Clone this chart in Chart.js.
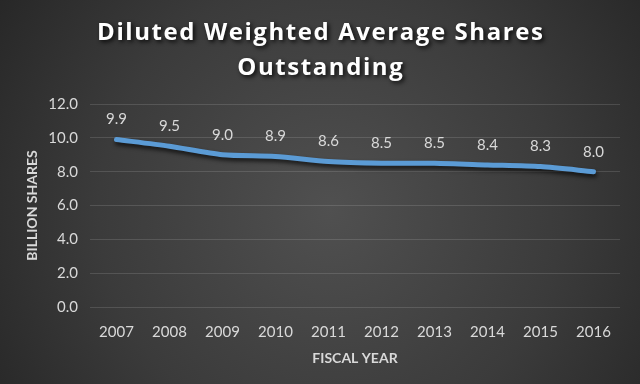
<!DOCTYPE html>
<html>
<head>
<meta charset="utf-8">
<script src="https://cdn.jsdelivr.net/npm/chart.js@4.4.0/dist/chart.umd.min.js"></script>
<style>
html,body{margin:0;padding:0;background:#333;}
#wrap{width:640px;height:384px;position:relative;}
</style>
</head>
<body>
<div id="wrap"><canvas id="c" width="640" height="384"></canvas></div>
<script>
const titleLines = ["Diluted Weighted Average Shares", "Outstanding"];
const years = ["2007","2008","2009","2010","2011","2012","2013","2014","2015","2016"];
const shares = [9.9, 9.5, 9.0, 8.9, 8.6, 8.5, 8.5, 8.4, 8.3, 8.0];
const yTitle = "BILLION SHARES";
const xTitle = "FISCAL YEAR";

const bgPlugin = {
  id: 'bg',
  beforeDraw(chart) {
    const ctx = chart.ctx, w = chart.width, h = chart.height;
    ctx.save();
    const g = ctx.createRadialGradient(330, 210, 0, 330, 210, 420);
    g.addColorStop(0, '#505050');
    g.addColorStop(0.55, '#3b3b3b');
    g.addColorStop(1, '#242424');
    ctx.fillStyle = g;
    ctx.fillRect(0, 0, w, h);
    ctx.restore();
  },
  afterDraw(chart) {
    const ctx = chart.ctx;
    ctx.save();
    ctx.font = 'bold 24px "Open Sans"';
    ctx.fillStyle = '#ffffff';
    ctx.textAlign = 'center';
    ctx.textBaseline = 'alphabetic';
    ctx.shadowColor = 'rgba(0,0,0,0.85)';
    ctx.shadowBlur = 4;
    ctx.shadowOffsetX = 2;
    ctx.shadowOffsetY = 2;
    const targetW = 446;
    const n = titleLines[0].length;
    const w0 = ctx.measureText(titleLines[0]).width;
    const sp = Math.max(0, (targetW - w0) / (n - 1));
    ctx.letterSpacing = sp.toFixed(2) + 'px';
    const bases = [40, 75];
    titleLines.forEach((t, i) => {
      ctx.fillText(t, 320 + sp / 2, bases[i]);
    });
    ctx.restore();
  }
};

const shadowPlugin = {
  id: 'lineShadow',
  beforeDatasetDraw(chart) {
    const ctx = chart.ctx;
    ctx.save();
    ctx.shadowColor = 'rgba(0,0,0,0.7)';
    ctx.shadowBlur = 4;
    ctx.shadowOffsetX = 1;
    ctx.shadowOffsetY = 3;
  },
  afterDatasetDraw(chart) {
    chart.ctx.restore();
  }
};

const labelPlugin = {
  id: 'valueLabels',
  afterDatasetsDraw(chart) {
    const ctx = chart.ctx;
    const meta = chart.getDatasetMeta(0);
    ctx.save();
    ctx.font = '15px Lato';
    ctx.fillStyle = '#d9d9d9';
    ctx.textAlign = 'center';
    ctx.textBaseline = 'middle';
    meta.data.forEach((pt, i) => {
      ctx.fillText(shares[i].toFixed(1), pt.x, pt.y - 20);
    });
    ctx.restore();
  }
};

new Chart(document.getElementById('c'), {
  type: 'line',
  data: {
    labels: years,
    datasets: [{
      data: shares,
      borderColor: '#5b9bd5',
      borderWidth: 5,
      borderCapStyle: 'round',
      borderJoinStyle: 'round',
      pointRadius: 0,
      tension: 0.25,
      fill: false
    }]
  },
  options: {
    responsive: false,
    animation: false,
    devicePixelRatio: 1,
    layout: { padding: { left: 0, right: 20, top: 104, bottom: 17 } },
    plugins: { legend: { display: false }, tooltip: { enabled: false }, title: { display: false } },
    scales: {
      x: {
        offset: true,
        grid: { display: false },
        border: { display: false },
        ticks: { color: '#d9d9d9', font: { family: 'Lato', size: 15 }, padding: 8, maxRotation: 0 },
        title: { display: true, text: xTitle, color: '#d9d9d9', font: { family: 'Lato', size: 14, weight: 'bold' }, padding: { top: 4, bottom: 0 } },
        afterFit(s) { s.height = 60; }
      },
      y: {
        min: 0, max: 12,
        ticks: { stepSize: 2, color: '#d9d9d9', font: { family: 'Lato', size: 15 }, padding: 12,
                 callback: v => Number(v).toFixed(1) },
        grid: { color: 'rgba(255,255,255,0.13)', lineWidth: 1, drawTicks: false },
        border: { display: false },
        title: { display: true, text: yTitle, color: '#d9d9d9', font: { family: 'Lato', size: 14, weight: 'bold' }, padding: { top: 24, bottom: 0 } },
        afterFit(s) { s.width = 90; }
      }
    }
  },
  plugins: [bgPlugin, shadowPlugin, labelPlugin]
});
</script>
</body>
</html>
